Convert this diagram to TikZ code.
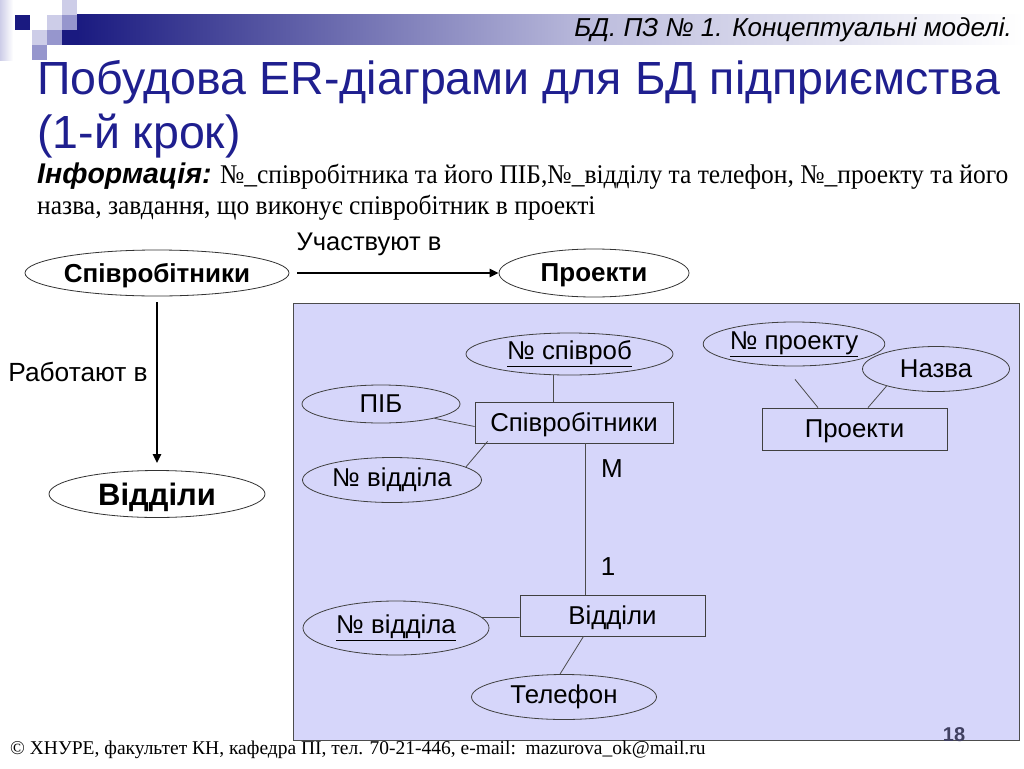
\documentclass[tikz,border=0pt]{standalone}
\usepackage{fontspec}
\setmainfont{Liberation Serif}
\setsansfont{Liberation Sans}
\newfontfamily\infofont[FakeStretch=0.945]{Liberation Serif}
\usetikzlibrary{arrows.meta,shapes.geometric,calc}
\definecolor{navy}{RGB}{26,26,128}
\definecolor{titleblue}{RGB}{31,31,143}
\definecolor{lav}{RGB}{214,214,250}
\definecolor{sqlight}{RGB}{205,205,232}
\definecolor{sqmed}{RGB}{150,150,205}
\definecolor{bandmid}{RGB}{190,190,222}
\definecolor{pgnum}{RGB}{64,64,96}
\begin{document}
\begin{tikzpicture}[x=1pt,y=-1pt,
  ent/.style={ellipse,draw=black!80,line width=0.8pt,fill=white,inner sep=0pt,text depth=0pt,font=\sffamily\bfseries\fontsize{26}{30}\selectfont},
  attr/.style={ellipse,draw=black!75,line width=0.8pt,inner sep=0pt,font=\sffamily\fontsize{25.8}{30}\selectfont},
  ebox/.style={rectangle,draw=black!75,line width=0.8pt,inner sep=0pt,text depth=0pt,font=\sffamily\fontsize{25.8}{30}\selectfont},
  link/.style={draw=black!70,line width=0.8pt},
  bigarrow/.style={line width=2.6pt,-{Triangle[length=9pt,width=8pt]}},
  lbl/.style={font=\sffamily\fontsize{25.5}{30}\selectfont,inner sep=0pt}
]
\fill[white] (0,0) rectangle (1024,768);
\useasboundingbox (0,0) rectangle (1024,768);
% header decoration
\shade[left color=sqlight,right color=white] (0,0) rectangle (13,60);
\shade[left color=navy,right color=bandmid] (77,15) rectangle (600,45);
\shade[left color=bandmid,right color=white] (600,15) rectangle (1024,45);
\fill[navy] (62,30) rectangle (77,45);
\fill[navy] (15,15) rectangle (30,30);
\fill[sqlight] (47,15) rectangle (62,30);
\fill[sqlight] (62,0) rectangle (77,15);
\fill[sqlight] (32,30) rectangle (47,45);
\fill[sqmed] (62,15) rectangle (77,30);
\fill[sqmed] (47,30) rectangle (62,45);
\fill[sqmed] (32,45) rectangle (47,60);
\node[anchor=east,inner sep=0pt,font=\sffamily\itshape\fontsize{26}{30}\selectfont] (hdr) at (1012,30) {БД. ПЗ № 1. Концептуальні моделі.};
% title
\node[anchor=west,inner sep=0pt,text=titleblue,font=\sffamily\fontsize{46.5}{52}\selectfont] (title1) at (37,82) {Побудова ER-діаграми для БД підприємства};
\node[anchor=west,inner sep=0pt,text=titleblue,font=\sffamily\fontsize{46.5}{52}\selectfont] (title2) at (37,136) {(1-й крок)};
% info
\node[anchor=west,inner sep=0pt,font=\infofont\fontsize{27}{30}\selectfont] (info1) at (37,176) {{\sffamily\bfseries\itshape\fontsize{28.5}{30}\selectfont Інформація:} №\_співробітника та його ПІБ,№\_відділу та телефон, №\_проекту та його};
\node[anchor=west,inner sep=0pt,font=\infofont\fontsize{27}{30}\selectfont] (info2) at (37,208) {назва, завдання, що виконує співробітник в проекті};
% upper diagram
\node[ent,minimum width=264pt,minimum height=46pt] (sp) at (157,273) {Співробітники};
\node[ent,minimum width=190pt,minimum height=48pt] (pr) at (594,273) {Проекти};
\node[ent,minimum width=216pt,minimum height=47pt,font=\sffamily\bfseries\fontsize{31}{34}\selectfont] (vid) at (157,494) {Відділи};
\draw[bigarrow,shorten <=8pt] (sp.east) -- (pr.west);
\draw[bigarrow,shorten <=6pt,shorten >=7pt] (sp.south) -- (vid.north);
\node[lbl] (uch) at (369,244) {Участвуют в};
\node[lbl,font=\sffamily\fontsize{26.3}{30}\selectfont] (rab) at (78,372) {Работают в};
% region
\draw[fill=lav,draw=black!70,line width=0.8pt] (293,303) rectangle (1019,740);
\node[attr,minimum width=207pt,minimum height=42pt] (nsp) at (569.5,354) {\underline{№ співроб}};
\node[attr,minimum width=158pt,minimum height=38pt] (pib) at (381,404) {ПІБ};
\node[ebox,minimum width=198pt,minimum height=41pt] (esp) at (574,422.5) {Співробітники};
\node[attr,minimum width=179pt,minimum height=45pt] (nv1) at (392,480) {№ відділа};
\node[ebox,minimum width=185pt,minimum height=41pt] (vd) at (612.5,615.5) {Відділи};
\node[attr,minimum width=186pt,minimum height=54pt] (nv2) at (396,628) {\underline{№ відділа}};
\node[attr,minimum width=185pt,minimum height=45pt] (tel) at (564,697) {Телефон};
\node[attr,minimum width=146pt,minimum height=44pt] (npr) at (794,344) {\underline{№ проекту}};
\node[attr,minimum width=147pt,minimum height=45pt] (naz) at (936,369) {Назва};
\node[ebox,minimum width=185pt,minimum height=42pt] (prb) at (854.5,429) {Проекти};
\draw[link] ($(nsp.south)+(-16.5,0)$) -- ($(esp.north)+(-21,0)$);
\draw[link] (pib.-15) -- ($(esp.west)+(0,4)$);
\draw[link] (nv1.10) -- ($(esp.south west)+(13,-2)$);
\coordinate (mtop) at ($(esp.south)+(11,0)$);
\draw[link] (mtop) -- (mtop |- vd.north);
\node[lbl,font=\sffamily\fontsize{26}{30}\selectfont] (mlab) at (612,469) {M};
\node[lbl,font=\sffamily\fontsize{26}{30}\selectfont] (onelab) at (608,567) {1};
\draw[link] ($(vd.west)+(0,2)$) -- (nv2.7);
\draw[link] ($(tel.north)+(-4,0)$) -- ($(vd.south)+(-29,0)$);
\draw[link] ($(npr.south)+(1,13)$) -- ($(prb.north)+(-36.5,0)$);
\draw[link] (naz.199) -- ($(prb.north)+(13.5,0)$);
% footer
\node[anchor=west,inner sep=0pt,font=\fontsize{19.5}{22}\selectfont] (foot) at (10,750) {© ХНУРЕ, факультет КН, кафедра ПІ, тел. 70-21-446,\ e-mail:\ \ mazurova\_ok@mail.ru};
\node[inner sep=0pt,text=pgnum,font=\sffamily\bfseries\fontsize{20}{24}\selectfont] (pg) at (954,735) {18};
\end{tikzpicture}
\end{document}
